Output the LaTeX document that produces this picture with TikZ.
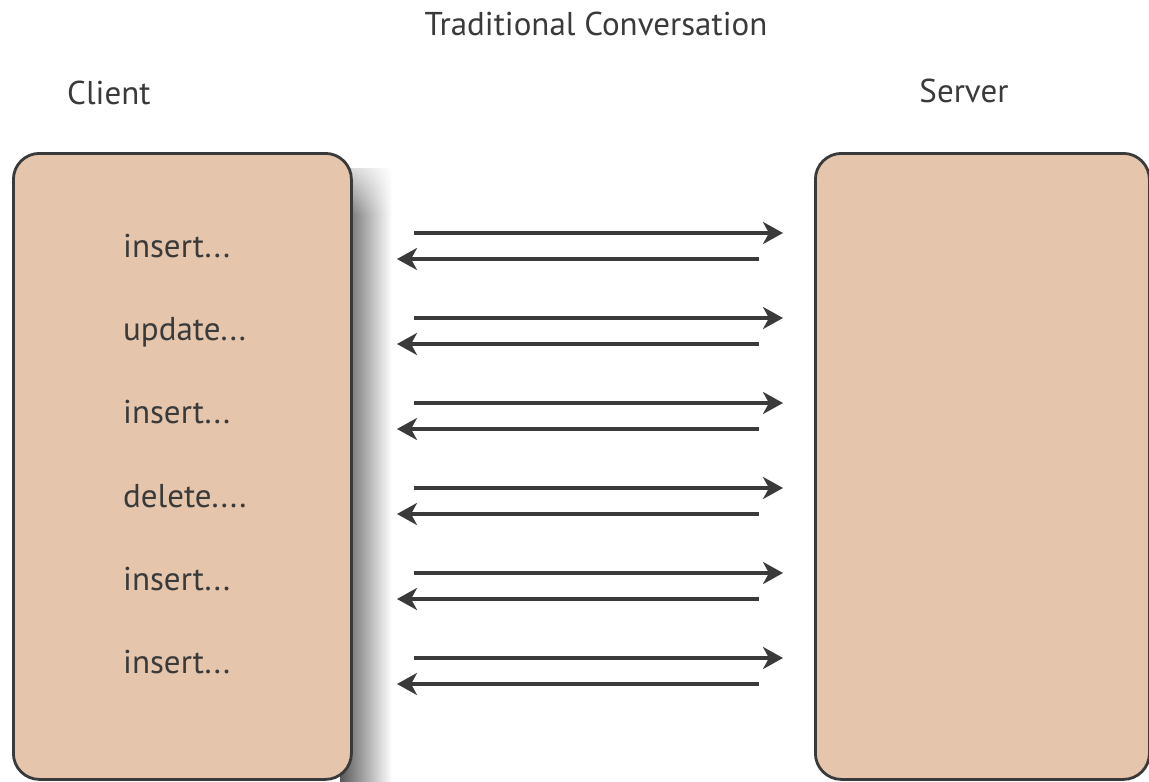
\documentclass[tikz,border=0pt]{standalone}
\usepackage{fontspec}
\setmainfont{PT Sans}
\usetikzlibrary{arrows.meta,fadings}
\definecolor{boxfill}{HTML}{E5C5AB}
\definecolor{ink}{HTML}{3A3A3A}
\begin{document}
\begin{tikzpicture}[x=1pt,y=-1pt,
  panel/.style={draw=ink, line width=2.8pt, fill=boxfill, rounded corners=26pt},
  lbl/.style={anchor=base west, inner sep=0pt, text=ink, font=\fontsize{33}{36}\selectfont},
  hdr/.style={anchor=base, inner sep=0pt, text=ink, font=\fontsize{33}{36}\selectfont},
  msg/.style={draw=ink, line width=3.2pt, -{Stealth[length=20pt,width=22pt,inset=6pt]}}]
\useasboundingbox (0,0) rectangle (1149,782);
\fill[white] (0,0) rectangle (1149,782);
% soft shadow to the right of the client panel
\shade[left color=black!65, right color=white] (340,168) rectangle (392,782);
\fill[white, path fading=south] (336,150) rectangle (396,215);
\node[panel, minimum width=338pt, minimum height=626pt, anchor=north west] (client) at (12,152) {};
\node[panel, minimum width=334pt, minimum height=626pt, anchor=north west] (server) at (814,152) {};
\node[hdr] (title) at (596,35) {Traditional Conversation};
\node[lbl] (clientlbl) at (67,104) {Client};
\node[hdr] (serverlbl) at (964,102) {Server};
\node[lbl] (op0) at (123,257) {insert...};
\node[lbl] (op1) at (123,340) {update...};
\node[lbl] (op2) at (123,423) {insert...};
\node[lbl] (op3) at (123,507) {delete....};
\node[lbl] (op4) at (123,590) {insert...};
\node[lbl] (op5) at (123,673) {insert...};
\foreach \i in {0,...,5}{
  \coordinate (rs\i) at (414,{233+85*\i});
  \coordinate (re\i) at (783,{233+85*\i});
  \coordinate (ls\i) at (759,{259+85*\i});
  \coordinate (le\i) at (397,{259+85*\i});
  \draw[msg] (rs\i) -- (re\i);
  \draw[msg] (ls\i) -- (le\i);
}
\end{tikzpicture}
\end{document}
